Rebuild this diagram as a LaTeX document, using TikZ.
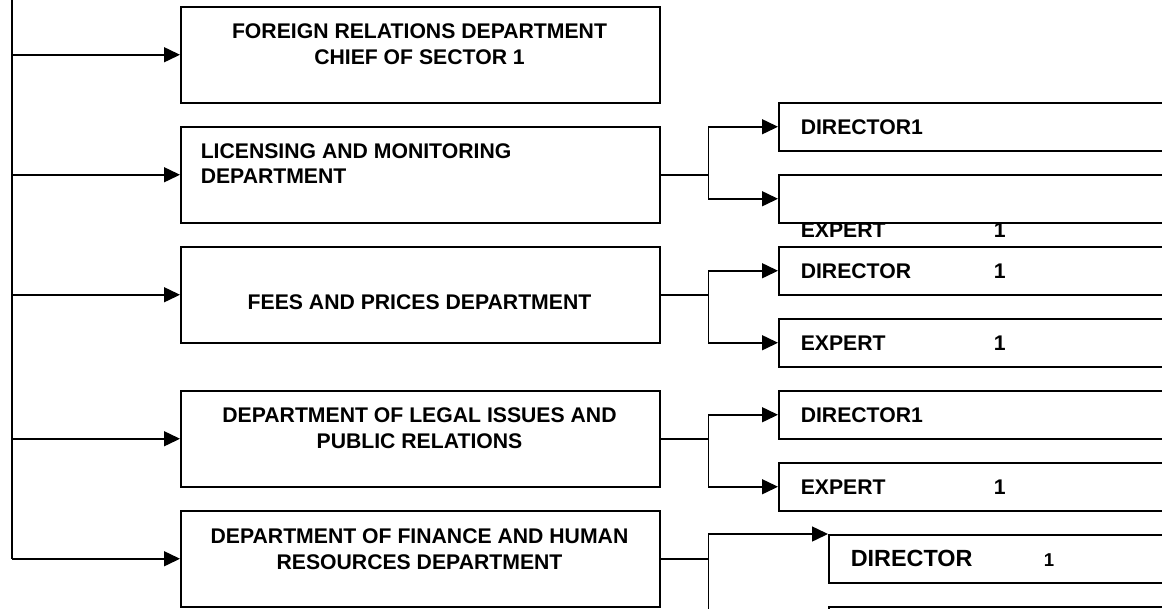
\documentclass[tikz,border=0pt]{standalone}
\usepackage{fontspec}
\setmainfont{Liberation Sans}
\usetikzlibrary{arrows.meta}
\begin{document}
\begin{tikzpicture}[x=1pt,y=-1pt,
  line width=1.5pt,
  every node/.style={font=\fontsize{21.2}{25.5}\selectfont\bfseries},
  dept/.style={draw, line width=1.5pt, minimum width=479pt, minimum height=96pt, inner sep=0pt, anchor=north west},
  sub/.style={draw, line width=1.5pt, minimum height=48pt, text width=420pt, inner xsep=22pt, inner ysep=0pt, align=left, anchor=north west},
  txt/.style={inner sep=0pt, align=center},
  arr/.style={-{Triangle[length=16pt,width=15pt]}},
]
\clip (0,0) rectangle (1162,608);
% department boxes
\node[dept] (b1) at (180,6) {};
\node[dept] (b2) at (180,126) {};
\node[dept] (b3) at (180,246) {};
\node[dept] (b4) at (180,390) {};
\node[dept] (b5) at (180,510) {};
% department texts
\node[txt, anchor=north] (t1) at (419.5,23) {FOREIGN RELATIONS DEPARTMENT\\CHIEF OF SECTOR 1};
\node[txt, anchor=north west, align=left] (t2) at (200,142.5) {LICENSING AND MONITORING\\DEPARTMENT};
\node[txt, anchor=base] (t3) at (419.5,309) {FEES AND PRICES DEPARTMENT};
\node[txt, anchor=north] (t4) at (419.5,407) {DEPARTMENT OF LEGAL ISSUES AND\\PUBLIC RELATIONS};
\node[txt, anchor=north] (t5) at (419.5,528) {DEPARTMENT OF FINANCE AND HUMAN\\RESOURCES DEPARTMENT};
% sub boxes
\node[sub] (s2a) at (778,102) {DIRECTOR1};
\node[sub] (s2b) at (778,174) {};
\node[txt, anchor=base west, align=left] (e2) at (800,237) {\makebox[193pt][l]{EXPERT}1};
\node[sub] (s3a) at (778,246) {\makebox[193pt][l]{DIRECTOR}1};
\node[sub] (s3b) at (778,318) {\makebox[193pt][l]{EXPERT}1};
\node[sub] (s4a) at (778,390) {DIRECTOR1};
\node[sub] (s4b) at (778,462) {\makebox[193pt][l]{EXPERT}1};
\node[sub, font=\fontsize{23.4}{28}\selectfont\bfseries] (s5a) at (828,534) {\makebox[193pt][l]{DIRECTOR}{\fontsize{18.6}{22}\selectfont 1}};
\node[sub] (s5b) at (828,606) {};
% trunk
\coordinate (top) at (12,0);
\draw (top) -- (b5.west -| top);
\foreach \b in {b1,b2,b3,b4,b5}{
  \draw[arr] (\b.west -| top) -- (\b.west);
}
% branches
\draw (b2.east) -- ++(48,0) coordinate (j2);
\draw[arr] (j2) |- (s2a.west);
\draw[arr] (j2) |- (s2b.west);
\draw (b3.east) -- ++(48,0) coordinate (j3);
\draw[arr] (j3) |- (s3a.west);
\draw[arr] (j3) |- (s3b.west);
\draw (b4.east) -- ++(48,0) coordinate (j4);
\draw[arr] (j4) |- (s4a.west);
\draw[arr] (j4) |- (s4b.west);
\draw (b5.east) -- ++(48,0) coordinate (j5);
\draw[arr] (j5) |- (s5a.north west);
\draw[arr] (j5) |- (s5b.west);
\end{tikzpicture}
\end{document}
